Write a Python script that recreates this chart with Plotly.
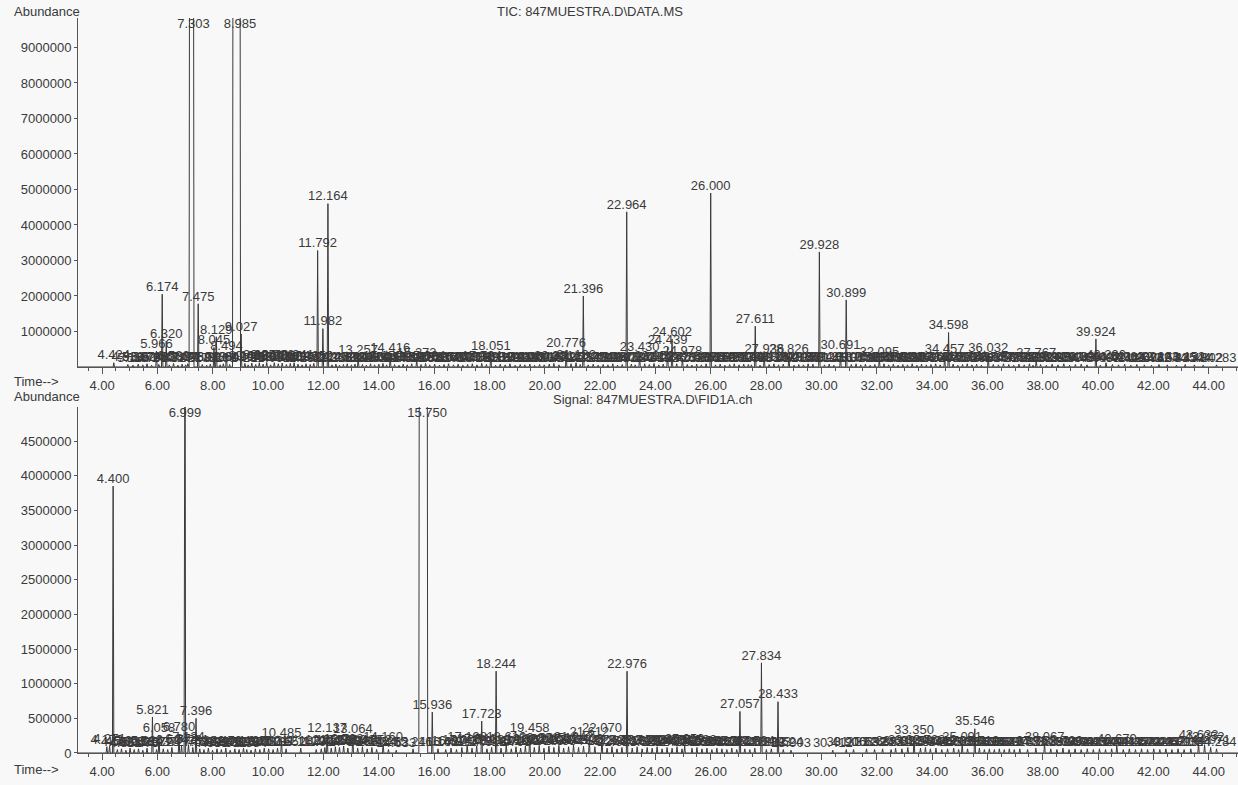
import plotly.graph_objects as go

# ---------------- TIC: 847MUESTRA.D\DATA.MS ----------------
# labelled peaks: retention time (min) and apex abundance
tic_times = [4.424, 5.966, 6.174, 6.320, 7.475, 8.045, 8.129, 8.494, 9.027,
             11.792, 11.982, 12.164, 13.257, 14.416, 15.373, 18.051, 20.776,
             21.396, 22.964, 23.430, 24.439, 24.602, 24.978, 26.000, 27.611,
             27.936, 28.826, 29.928, 30.691, 30.899, 32.095, 34.457, 34.598,
             36.032, 37.767, 39.924, 40.290]
tic_heights = [120000, 450000, 2050000, 730000, 1780000, 550000, 850000, 380000, 930000,
               3280000, 1080000, 4600000, 280000, 320000, 200000, 400000, 470000,
               2000000, 4370000, 350000, 550000, 790000, 250000, 4900000, 1150000,
               300000, 300000, 3240000, 420000, 1890000, 230000, 290000, 970000,
               330000, 200000, 790000, 120000]

# off-scale (saturated) peaks: apex time and onset of the flat top
tic_sat_times = [7.303, 8.985]
tic_sat_onset = [7.165, 8.735]

# small baseline peaks
tic_minor_times = [
    4.932, 5.118, 5.307, 5.472, 5.624, 5.791, 6.052, 6.431, 6.583, 6.742,
    6.894, 7.021, 7.098, 7.623, 7.781, 7.912, 8.268, 8.384, 8.612, 9.163,
    9.281, 9.412, 9.553, 9.684, 9.822, 9.951, 10.094, 10.226, 10.371, 10.512,
    10.663, 10.804, 10.941, 11.083, 11.231, 11.372, 11.524, 11.652, 12.311, 12.452,
    12.583, 12.724, 12.861, 13.012, 13.143, 13.412, 13.553, 13.704, 13.851, 14.003,
    14.152, 14.284, 14.573, 14.732, 14.884, 15.031, 15.192, 15.531, 15.694, 15.842,
    16.023, 16.194, 16.362, 16.524, 16.703, 16.871, 17.042, 17.213, 17.384, 17.551,
    17.724, 17.893, 18.224, 18.392, 18.571, 18.743, 18.932, 19.114, 19.281, 19.462,
    19.633, 19.814, 19.982, 20.163, 20.331, 20.514, 20.952, 21.132, 21.284, 21.573,
    21.754, 21.931, 22.113, 22.284, 22.461, 22.632, 22.803, 23.131, 23.272, 23.614,
    23.781, 23.952, 24.123, 24.284, 24.771, 25.152, 25.321, 25.493, 25.662, 25.834,
    26.173, 26.342, 26.513, 26.684, 26.852, 27.023, 27.194, 27.362, 27.470, 27.783,
    28.113, 28.284, 28.452, 28.623, 29.014, 29.183, 29.352, 29.521, 29.694, 30.112,
    30.283, 30.451, 31.083, 31.254, 31.422, 31.593, 31.764, 31.933, 32.264, 32.431,
    32.602, 32.773, 32.944, 33.112, 33.283, 33.452, 33.621, 33.794, 33.962, 34.131,
    34.294, 34.763, 34.932, 35.104, 35.273, 35.441, 35.612, 35.783, 36.214, 36.402,
    36.583, 36.774, 36.951, 37.142, 37.333, 37.521, 37.652, 37.924, 38.132, 38.343,
    38.554, 38.763, 38.974, 39.182, 39.393, 39.604, 40.083, 40.521, 40.742, 40.963,
    41.184, 41.402, 41.676, 41.932, 42.203, 42.504, 42.835, 43.152, 43.484, 43.802,
    44.283,
]
tic_minor_heights = [
    70000, 50000, 80000, 60000, 90000, 50000, 70000, 60000, 100000, 50000,
    80000, 60000, 90000, 70000, 50000, 80000, 60000, 90000, 70000, 100000,
    60000, 110000, 70000, 120000, 80000, 130000, 60000, 120000, 90000, 110000,
    70000, 100000, 120000, 80000, 60000, 90000, 70000, 100000, 60000, 80000,
    50000, 70000, 90000, 60000, 80000, 70000, 50000, 90000, 60000, 80000,
    100000, 60000, 70000, 50000, 80000, 60000, 90000, 70000, 100000, 60000,
    80000, 50000, 70000, 90000, 60000, 80000, 50000, 70000, 90000, 60000,
    100000, 70000, 50000, 80000, 60000, 90000, 50000, 70000, 60000, 80000,
    50000, 70000, 60000, 80000, 100000, 60000, 90000, 120000, 70000, 60000,
    80000, 50000, 70000, 60000, 90000, 50000, 70000, 80000, 60000, 90000,
    70000, 100000, 60000, 80000, 90000, 70000, 50000, 80000, 60000, 90000,
    60000, 80000, 50000, 70000, 90000, 60000, 80000, 70000, 60000, 50000,
    70000, 90000, 60000, 80000, 50000, 70000, 60000, 90000, 80000, 60000,
    80000, 50000, 70000, 90000, 60000, 80000, 50000, 70000, 90000, 60000,
    80000, 50000, 70000, 60000, 90000, 50000, 80000, 60000, 70000, 90000,
    60000, 80000, 50000, 70000, 90000, 60000, 80000, 50000, 70000, 60000,
    90000, 70000, 50000, 80000, 60000, 90000, 50000, 70000, 50000, 80000,
    60000, 90000, 50000, 70000, 80000, 60000, 50000, 70000, 60000, 80000,
    50000, 70000, 60000, 50000, 70000, 60000, 50000, 70000, 60000, 50000,
    60000,
]

# ---------------- Signal: 847MUESTRA.D\FID1A.ch ----------------
fid_times = [4.400, 5.821, 6.058, 6.780, 7.396, 12.137, 13.064, 14.160, 15.241,
             15.936, 17.723, 18.244, 19.458, 22.070, 22.976, 27.057, 27.834,
             28.433, 28.903, 30.900, 33.350, 35.091, 35.546, 38.067, 40.679,
             43.633]
fid_heights = [3850000, 520000, 260000, 270000, 500000, 260000, 240000, 130000, 60000,
               590000, 460000, 1180000, 260000, 250000, 1180000, 600000, 1300000,
               740000, 40000, 50000, 220000, 130000, 350000, 130000, 100000,
               150000]

fid_sat_times = [6.999, 15.750]
fid_sat_onset = [6.985, 15.470]

fid_minor_times = [
    4.172, 4.271, 4.553, 4.702, 4.861, 5.013, 5.162, 5.318, 5.473, 5.624,
    5.972, 6.213, 6.372, 6.524, 6.873, 7.124, 7.281, 7.532, 7.683, 7.842,
    7.993, 8.154, 8.312, 8.473, 8.632, 8.799, 8.953, 9.112, 9.230, 9.384,
    9.541, 9.703, 9.862, 10.021, 10.183, 10.342, 10.485, 10.652, 11.182, 11.741,
    11.924, 12.052, 12.284, 12.433, 12.581, 12.732, 12.884, 13.239, 13.412, 13.583,
    13.752, 13.924, 14.352, 14.633, 16.143, 16.422, 16.614, 16.812, 17.005, 17.198,
    17.372, 17.541, 17.912, 18.081, 18.421, 18.610, 18.793, 18.962, 19.131, 19.302,
    19.624, 19.801, 19.973, 20.152, 20.331, 20.512, 20.684, 20.863, 21.042, 21.224,
    21.403, 21.612, 21.813, 22.254, 22.432, 22.613, 22.792, 23.163, 23.342, 23.521,
    23.703, 23.884, 24.063, 24.242, 24.423, 24.604, 24.782, 24.963, 25.059, 25.324,
    25.503, 25.684, 25.863, 26.042, 26.223, 26.404, 26.583, 26.762, 26.941, 27.232,
    27.413, 27.594, 28.012, 28.193, 28.624, 30.412, 31.163, 31.632, 31.924, 32.213,
    32.521, 32.683, 32.912, 33.124, 33.583, 33.762, 33.941, 34.142, 34.352, 34.562,
    34.783, 34.962, 35.284, 35.712, 35.893, 36.072, 36.254, 36.433, 36.612, 36.794,
    36.973, 37.172, 37.453, 37.753, 38.292, 38.514, 38.733, 38.952, 39.171, 39.392,
    39.613, 39.832, 40.053, 40.272, 40.493, 40.914, 41.132, 41.354, 41.573, 41.792,
    42.014, 42.233, 42.452, 42.671, 42.893, 43.112, 43.354, 43.852, 44.071, 44.284,
]
fid_minor_heights = [
    90000, 100000, 50000, 60000, 40000, 70000, 50000, 60000, 40000, 70000,
    50000, 60000, 50000, 80000, 100000, 120000, 80000, 60000, 50000, 70000,
    40000, 60000, 50000, 70000, 40000, 60000, 50000, 70000, 50000, 40000,
    60000, 50000, 70000, 60000, 50000, 70000, 180000, 60000, 70000, 50000,
    60000, 80000, 70000, 90000, 80000, 100000, 70000, 70000, 90000, 60000,
    80000, 50000, 50000, 40000, 60000, 50000, 70000, 50000, 80000, 120000,
    70000, 100000, 60000, 80000, 70000, 120000, 60000, 90000, 70000, 100000,
    80000, 110000, 70000, 100000, 80000, 110000, 70000, 90000, 120000, 80000,
    100000, 200000, 90000, 70000, 90000, 60000, 80000, 70000, 90000, 60000,
    80000, 70000, 90000, 60000, 80000, 70000, 90000, 60000, 100000, 70000,
    80000, 60000, 70000, 50000, 70000, 60000, 50000, 70000, 50000, 60000,
    50000, 70000, 50000, 60000, 50000, 40000, 50000, 60000, 50000, 60000,
    50000, 70000, 60000, 80000, 70000, 80000, 60000, 70000, 50000, 60000,
    70000, 50000, 60000, 70000, 50000, 60000, 50000, 60000, 50000, 60000,
    50000, 60000, 50000, 70000, 60000, 50000, 70000, 50000, 60000, 50000,
    60000, 50000, 60000, 50000, 60000, 50000, 60000, 50000, 60000, 50000,
    60000, 50000, 60000, 50000, 60000, 50000, 60000, 120000, 80000, 60000,
]

x_tick_values = [4, 6, 8, 10, 12, 14, 16, 18, 20, 22, 24, 26, 28, 30, 32, 34, 36, 38, 40, 42, 44]
tic_y_ticks = [1000000, 2000000, 3000000, 4000000, 5000000, 6000000, 7000000, 8000000, 9000000]
fid_y_ticks = [0, 500000, 1000000, 1500000, 2000000, 2500000, 3000000, 3500000, 4000000, 4500000]

X_RANGE = [3.13, 45.06]
TIC_YMAX = 9830000
FID_YMAX = 4990000
HALF_WIDTH = 0.025      # half base width of a normal peak (min)
EDGE = 0.02             # rise width of a saturated peak flank (min)

INK = "#3a3a3a"
AXIS = "#555555"
FONT = "Liberation Sans, Arial, sans-serif"


def trace_points(times, heights, sat_times, sat_onset, ceiling):
    """Assemble a polyline of triangular peaks (and flat-topped off-scale peaks)."""
    segs = []
    for t, h in zip(times, heights):
        segs.append((t - HALF_WIDTH, [t - HALF_WIDTH, t, t + HALF_WIDTH], [0, h, 0]))
    for t, t0 in zip(sat_times, sat_onset):
        segs.append((t0 - EDGE, [t0 - EDGE, t0, t, t + EDGE], [0, ceiling, ceiling, 0]))
    segs.sort(key=lambda s: s[0])
    xs, ys = [X_RANGE[0]], [0]
    for _, sx, sy in segs:
        xs += sx
        ys += sy
    xs.append(X_RANGE[1])
    ys.append(0)
    return xs, ys


fig = go.Figure()

panels = [
    ("x", "y", tic_times + tic_minor_times, tic_heights + tic_minor_heights,
     tic_sat_times, tic_sat_onset, TIC_YMAX),
    ("x2", "y2", fid_times + fid_minor_times, fid_heights + fid_minor_heights,
     fid_sat_times, fid_sat_onset, FID_YMAX),
]

for xa, ya, times, heights, sat_t, sat_on, ymax in panels:
    xs, ys = trace_points(times, heights, sat_t, sat_on, ymax * 1.5)
    fig.add_trace(go.Scatter(x=xs, y=ys, mode="lines", xaxis=xa, yaxis=ya,
                             line=dict(color=INK, width=1), hoverinfo="skip",
                             showlegend=False))
    # retention-time labels above each apex
    fig.add_trace(go.Scatter(x=times, y=heights, mode="text", xaxis=xa, yaxis=ya,
                             text=[f"{t:.3f}" for t in times],
                             textposition="top center", cliponaxis=False,
                             textfont=dict(family=FONT, size=13, color=INK),
                             hoverinfo="skip", showlegend=False))
    # labels of off-scale peaks sit at the top of the frame
    fig.add_trace(go.Scatter(x=sat_t, y=[ymax] * len(sat_t), mode="text",
                             xaxis=xa, yaxis=ya,
                             text=[f"{t:.3f}" for t in sat_t],
                             textposition="bottom center", cliponaxis=False,
                             textfont=dict(family=FONT, size=13, color=INK),
                             hoverinfo="skip", showlegend=False))

x_common = dict(
    range=X_RANGE, showline=True, linecolor=AXIS, linewidth=1,
    ticks="outside", ticklen=6, tickcolor=AXIS,
    tickmode="array", tickvals=x_tick_values,
    ticktext=[f"{v:.2f}" for v in x_tick_values],
    minor=dict(ticks="outside", ticklen=3, tickcolor=AXIS, dtick=0.5, tick0=0),
    showgrid=False, zeroline=False, fixedrange=True,
    tickfont=dict(family=FONT, size=13, color=INK),
)
y_common = dict(
    showline=True, linecolor=AXIS, linewidth=1, ticks="outside", ticklen=3,
    tickcolor=AXIS, showgrid=False, zeroline=False, tickformat="d",
    tickfont=dict(family=FONT, size=13, color=INK),
)

fig.update_layout(
    width=1238, height=785,
    margin=dict(l=78, r=0, t=18, b=32),
    paper_bgcolor="#f8f8f8", plot_bgcolor="#f8f8f8",
    font=dict(family=FONT, size=13, color=INK),
    xaxis=dict(anchor="y", domain=[0, 1], **x_common),
    yaxis=dict(anchor="x", domain=[0.5252, 1.0], range=[0, TIC_YMAX],
               tickmode="array", tickvals=tic_y_ticks, **y_common),
    xaxis2=dict(anchor="y2", domain=[0, 1], **x_common),
    yaxis2=dict(anchor="x2", domain=[0, 0.4707], range=[0, FID_YMAX],
                tickmode="array", tickvals=fid_y_ticks, **y_common),
)

texts = [
    ("Abundance", -0.057, 1.0095, "left"),
    ("Time-->", -0.057, 0.5048, "left"),
    ("TIC: 847MUESTRA.D\\DATA.MS", 0.441, 1.0095, "center"),
    ("Abundance", -0.057, 0.4844, "left"),
    ("Time-->", -0.057, -0.0231, "left"),
    ("Signal: 847MUESTRA.D\\FID1A.ch", 0.495, 0.4816, "center"),
]
for txt, x, y, anchor in texts:
    fig.add_annotation(text=txt, x=x, y=y, xref="paper", yref="paper",
                       xanchor=anchor, yanchor="middle", showarrow=False,
                       font=dict(family=FONT, size=13, color=INK))

fig.write_html("out.html")
